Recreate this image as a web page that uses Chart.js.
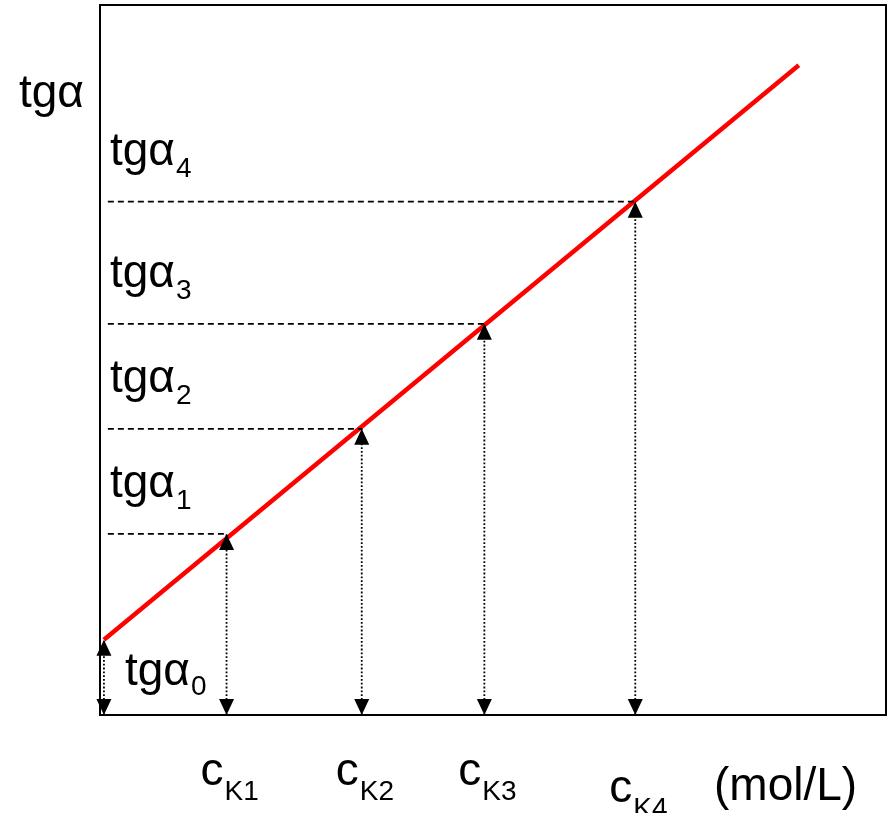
<!DOCTYPE html>
<html>
<head>
<meta charset="utf-8">
<script src="https://cdn.jsdelivr.net/npm/chart.js@4/dist/chart.umd.min.js"></script>
<style>
  html, body { margin: 0; padding: 0; background: #fff; }
  #wrap { width: 890px; height: 813px; }
</style>
</head>
<body>
<div id="wrap"><canvas id="myChart" width="890" height="813"></canvas></div>
<script>
// concentrations c_K1..c_K4 (arbitrary units on a 0..100 axis)
const cK = [16.1, 33.3, 48.9, 68.1];
// tg(alpha) read at each concentration
const tgA = [25.5, 40.3, 55.1, 72.3];
const cLabels = ['K1', 'K2', 'K3', 'K4'];
const tgLabels = ['1', '2', '3', '4'];
// calibration line end points
const lineX = [0.5, 88.9];
const lineY = [10.6, 91.5];
const tg0 = 10.6;

const FONT = '"Liberation Sans", Arial, sans-serif';
const MAIN = 46, SUB = 28;

// helper: main text + subscript
function subText(ctx, main, sub, x, y, size, subSize, drop) {
  ctx.font = size + 'px ' + FONT;
  ctx.fillText(main, x, y);
  const w = ctx.measureText(main).width;
  ctx.font = subSize + 'px ' + FONT;
  ctx.fillText(sub, x + w + 1, y + drop);
}

function arrow(ctx, x, y, dir) {
  // dir -1 : pointing up (apex at y), 1 : pointing down
  const h = 16, hw = 7.5;
  ctx.beginPath();
  ctx.moveTo(x, y);
  ctx.lineTo(x - hw, y - dir * h);
  ctx.lineTo(x + hw, y - dir * h);
  ctx.closePath();
  ctx.fill();
}

const extras = {
  id: 'extras',
  afterDatasetsDraw(chart) {
    const { ctx, chartArea, scales } = chart;
    const xs = scales.x, ys = scales.y;
    ctx.save();
    ctx.fillStyle = '#000';
    // frame
    ctx.strokeStyle = '#000';
    ctx.lineWidth = 2;
    ctx.strokeRect(chartArea.left, chartArea.top, chartArea.right - chartArea.left, chartArea.bottom - chartArea.top);

    const y0 = ys.getPixelForValue(0);
    // arrows
    cK.forEach((c, i) => {
      const px = xs.getPixelForValue(c);
      arrow(ctx, px, ys.getPixelForValue(tgA[i]), -1);
      arrow(ctx, px, y0, 1);
    });
    const ax = xs.getPixelForValue(lineX[0]);
    arrow(ctx, ax, ys.getPixelForValue(tg0), -1);
    arrow(ctx, ax, y0, 1);

    // labels
    ctx.textBaseline = 'alphabetic';
    ctx.textAlign = 'left';
    ctx.font = MAIN + 'px ' + FONT;
    ctx.fillText('tg\u03b1', 19, 107);
    const lx = xs.getPixelForValue(0) + 10;
    tgA.forEach((t, i) => {
      subText(ctx, 'tg\u03b1', tgLabels[i], lx, ys.getPixelForValue(t) - 37, MAIN, SUB, 12);
    });
    subText(ctx, 'tg\u03b1', '0', xs.getPixelForValue(0) + 25, y0 - 30, MAIN, SUB, 10);

    cK.forEach((c, i) => {
      const dy = i === 3 ? 87 : 70;
      subText(ctx, 'c', cLabels[i], xs.getPixelForValue(c) - 26, y0 + dy, MAIN, SUB, 15);
    });
    ctx.font = MAIN + 'px ' + FONT;
    ctx.fillText('(mol/L)', 714, 800);
    ctx.restore();
  }
};

const datasets = [];
// horizontal dashed guides
cK.forEach((c, i) => {
  datasets.push({
    data: [{ x: 1, y: tgA[i] }, { x: c, y: tgA[i] }],
    borderColor: '#000', borderWidth: 1.8, borderDash: [6, 4],
    showLine: true, pointRadius: 0
  });
});
// vertical dotted guides
cK.forEach((c, i) => {
  datasets.push({
    data: [{ x: c, y: 0 }, { x: c, y: tgA[i] }],
    borderColor: '#000', borderWidth: 1.8, borderDash: [1.8, 2],
    showLine: true, pointRadius: 0
  });
});
datasets.push({
  data: [{ x: lineX[0], y: 0 }, { x: lineX[0], y: tg0 }],
  borderColor: '#000', borderWidth: 1.8, borderDash: [1.8, 2],
  showLine: true, pointRadius: 0
});
// calibration line
datasets.push({
  data: lineX.map((x, i) => ({ x: x, y: lineY[i] })),
  borderColor: '#ff0000', borderWidth: 4.5,
  showLine: true, pointRadius: 0
});

const chartRef = document.getElementById('myChart').getContext('2d');
new Chart(chartRef, {
  type: 'scatter',
  data: { datasets: datasets },
  options: {
    responsive: false,
    animation: false,
    layout: { padding: { left: 100, top: 5, right: 4, bottom: 98 } },
    plugins: { legend: { display: false }, tooltip: { enabled: false } },
    scales: {
      x: { type: 'linear', min: 0, max: 100, display: false },
      y: { type: 'linear', min: 0, max: 100, display: false }
    }
  },
  plugins: [extras]
});
</script>
</body>
</html>
